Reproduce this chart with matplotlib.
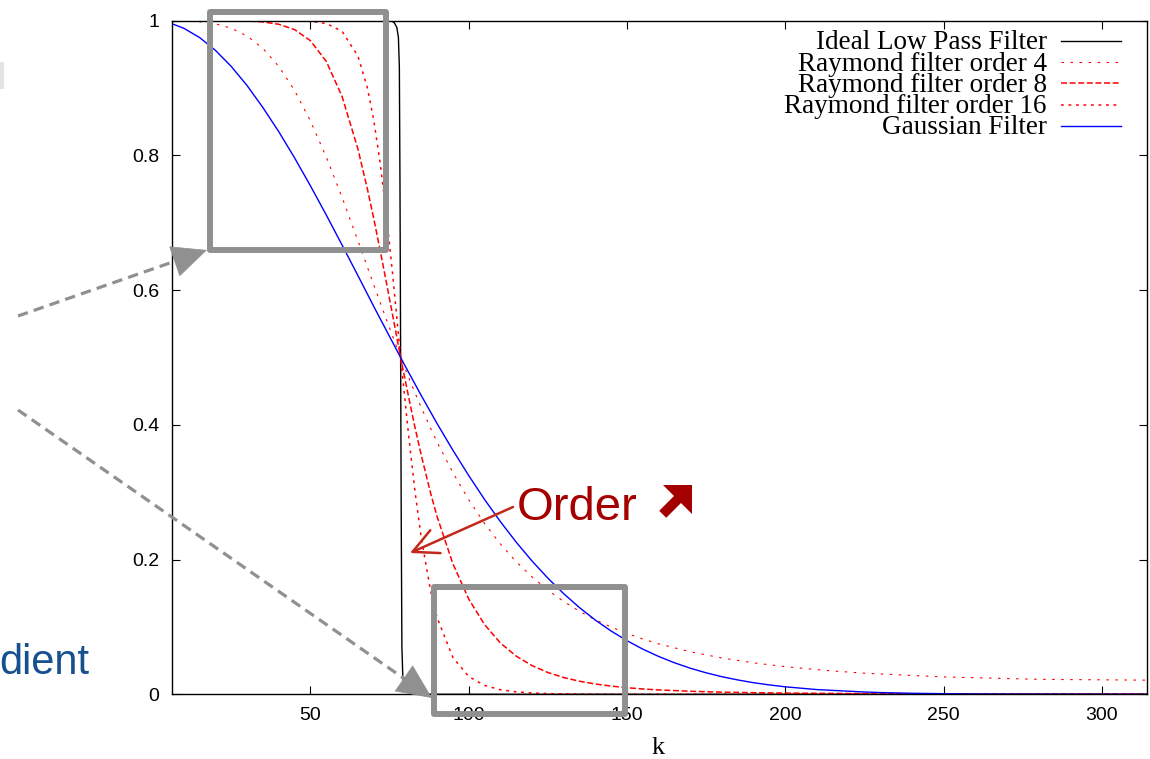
import numpy as np
import matplotlib
matplotlib.use('Agg')
import matplotlib.pyplot as plt
import matplotlib.transforms as mtransforms
from matplotlib.lines import Line2D
from matplotlib.patches import Rectangle, FancyArrowPatch, Polygon

plt.rcParams['font.family'] = ['Liberation Sans', 'DejaVu Sans']
plt.rcParams['lines.scale_dashes'] = False

# filter responses vs wavenumber k
k_ideal = [6.28, 75.5, 76.5, 77.3, 77.8, 78.1, 78.3, 78.5, 78.7, 78.9, 79.2, 79.7, 80.7, 82.5, 85, 314.16]
ideal = [1, 1, 0.997, 0.99, 0.975, 0.93, 0.75, 0.5, 0.25, 0.07, 0.025, 0.01, 0.003, 0.001, 0, 0]

k_ray = [6.28, 10, 15, 20, 25, 30, 35, 40, 45, 50, 55, 60, 65, 68, 70, 72, 74, 76, 78.5, 81, 83,
         85, 88, 90, 95, 100, 105, 110, 115, 120, 125, 130, 135, 140, 145, 150, 155, 160, 170,
         180, 190, 200, 212, 225, 250, 280, 314.16]
ray4 = [1.000, 0.9997, 0.9985, 0.9954, 0.9889, 0.9773, 0.9589, 0.9322, 0.8965, 0.8513, 0.7978,
        0.7377, 0.6735, 0.6342, 0.6081, 0.5820, 0.5565, 0.5313, 0.5, 0.4708, 0.4480,
        0.4260, 0.3945, 0.3746, 0.3290, 0.2888, 0.2537, 0.2232, 0.1969, 0.1743, 0.1547, 0.1378,
        0.1232, 0.1107, 0.0998, 0.0904, 0.0821, 0.0749, 0.0631,
        0.0539, 0.0467, 0.0410, 0.0357, 0.0313, 0.0258, 0.0222, 0.0210]
ray8 = [1.0, 1.0, 1.0, 1.0, 0.9999, 0.9995, 0.9982, 0.9947, 0.9868, 0.9704, 0.9397,
        0.8877, 0.8097, 0.7503, 0.7065, 0.6597, 0.6115, 0.5622, 0.5, 0.4419, 0.3970,
        0.3552, 0.2981, 0.2641, 0.1939, 0.1415, 0.1035, 0.0762, 0.0567, 0.0426, 0.0324, 0.0249,
        0.0194, 0.0153, 0.0122, 0.0098, 0.0079, 0.0065, 0.0045,
        0.0032, 0.0024, 0.0018, 0.0014, 0.0010, 0.0007, 0.0005, 0.0005]
ray16 = [1.0, 1.0, 1.0, 1.0, 1.0, 1.0, 1.0, 1.0, 0.9998, 0.9991, 0.9959,
         0.9843, 0.9477, 0.9003, 0.8528, 0.7898, 0.7125, 0.6226, 0.5, 0.3854, 0.3025,
         0.2328, 0.1528, 0.1140, 0.0547, 0.0264, 0.0132, 0.0068, 0.0036, 0.0020, 0.0011, 0.0007,
         0.0004, 0.0002, 0.0001, 0.0001, 0.0, 0.0, 0.0,
         0.0, 0.0, 0.0, 0.0, 0.0, 0.0, 0.0, 0.0]

k_gauss = [6.28, 10, 15, 20, 25, 30, 35, 40, 45, 50, 55, 60, 65, 70, 75, 78.5, 80, 85, 90, 95,
           100, 105, 110, 115, 120, 125, 130, 135, 140, 145, 150, 155, 160, 165, 170, 175, 180,
           185, 190, 195, 200, 210, 225, 230, 240, 250, 260, 280, 314.16]
gauss = [0.9955, 0.9888, 0.9750, 0.9560, 0.9321, 0.9037, 0.8710, 0.8353, 0.7964, 0.7549,
         0.7117, 0.6670, 0.6217, 0.5759, 0.5312, 0.5, 0.4868, 0.4437, 0.4020, 0.3624,
         0.3248, 0.2893, 0.2564, 0.2259, 0.1979, 0.1725, 0.1494, 0.1287, 0.1102, 0.0939,
         0.0796, 0.0670, 0.0562, 0.0468, 0.0387, 0.0319, 0.0261,
         0.0213, 0.0172, 0.0139, 0.0111, 0.0070, 0.0034, 0.0026, 0.0015, 0.0009, 0.0005,
         0.0002, 0.0]

labels = ['Ideal Low Pass Filter', 'Raymond filter order 4', 'Raymond filter order 8',
          'Raymond filter order 16', 'Gaussian Filter']
xticks = [50, 100, 150, 200, 250, 300]
yticks = [0, 0.2, 0.4, 0.6, 0.8, 1]
yticklabels = ['0', '0.2', '0.4', '0.6', '0.8', '1']

W, H = 1150, 759
fig = plt.figure(figsize=(W / 100, H / 100), dpi=100)
# pixel coords measured from the top-left corner
pix = mtransforms.Affine2D().scale(1 / 100, -1 / 100).translate(0, H / 100) + fig.dpi_scale_trans

ax = fig.add_axes([172 / W, 1 - 694.3 / H, (1146.7 - 172) / W, (694.3 - 20.7) / H])

styles = [
    dict(color='black', lw=1.0),
    dict(color='red', lw=0.8, dashes=(1.8, 4.7)),
    dict(color='red', lw=1.1, dashes=(4.3, 1.9)),
    dict(color='red', lw=1.1, dashes=(2.0, 3.4)),
    dict(color='blue', lw=1.0),
]
series = [(k_ideal, ideal), (k_ray, ray4), (k_ray, ray8), (k_ray, ray16), (k_gauss, gauss)]
for (kk, vv), st in zip(series, styles):
    ax.plot(kk, vv, **st)

ax.set_xlim(2 * np.pi, 100 * np.pi)
ax.set_ylim(0, 1)
ax.set_xticks(xticks)
ax.set_yticks(yticks)
ax.set_yticklabels(yticklabels)
ax.tick_params(direction='in', length=5.8, width=0.8, top=True, right=True,
               labelsize=14, pad=9)
for sp in ax.spines.values():
    sp.set_linewidth(1.0)

# legend drawn gnuplot-style: right-aligned labels, sample line to the right
for i, (lab, st) in enumerate(zip(labels, styles)):
    y = 40.7 + 21.3 * i
    fig.text(1046.7, y + 8.6, lab, transform=pix, ha='right', va='baseline',
             family='Liberation Serif', fontsize=19.5)
    fig.add_artist(Line2D([1061, 1121], [y, y], transform=pix, **st))

fig.text(658, 748, 'k', transform=pix, ha='center', va='center',
         family='Liberation Serif', fontsize=19)

# zoom boxes
grey = '#909090'
for x0, y0, x1, y1 in [(209.5, 12, 385.7, 250), (433.7, 586.7, 625.3, 714)]:
    fig.add_artist(Rectangle((x0, y0), x1 - x0, y1 - y0, transform=pix, fill=False,
                             edgecolor=grey, lw=4.3, joinstyle='round'))

# dashed pointers towards the boxes
for (sx, sy), (tx, ty) in [((18, 316), (207, 250)), ((18, 410), (432, 698))]:
    d = np.hypot(tx - sx, ty - sy)
    bx, by = tx - 24 * (tx - sx) / d, ty - 24 * (ty - sy) / d
    fig.add_artist(Line2D([sx, bx], [sy, by], transform=pix, color=grey, lw=2.3,
                          dashes=(7.5, 4.5)))
    fig.add_artist(FancyArrowPatch((bx - 2 * (tx - sx) / d, by - 2 * (ty - sy) / d), (tx, ty),
                                   transform=pix, arrowstyle='-|>,head_length=1.2,head_width=0.55',
                                   mutation_scale=20, color=grey, lw=0.5,
                                   shrinkA=0, shrinkB=0))

# "Order" annotation
dark_red = '#a50000'
fig.add_artist(FancyArrowPatch((513, 507), (410, 553), transform=pix,
                               arrowstyle='->,head_length=0.9,head_width=0.45',
                               mutation_scale=20, color='#c4281a', lw=1.8,
                               shrinkA=0, shrinkB=0))
fig.text(517, 520, 'Order', transform=pix, ha='left', va='baseline',
         color=dark_red, fontsize=34)
# heavy north-east arrow next to the word
ne_arrow = [(692, 485), (692, 514), (681, 503), (666.2, 517.8), (659.2, 510.8),
            (674, 496), (663, 485)]
fig.add_artist(Polygon(ne_arrow, closed=True, transform=pix, color=dark_red, lw=0))

fig.text(-1, 674, 'dient', transform=pix, ha='left', va='baseline',
         color='#17508f', fontsize=30)
fig.add_artist(Rectangle((-10, 62), 14, 27, transform=pix, color='#e4e4e4', lw=0))

fig.savefig('out.png', dpi=100)
